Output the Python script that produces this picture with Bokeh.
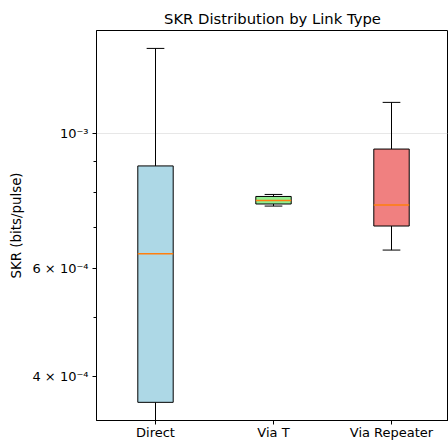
from bokeh.plotting import figure
from bokeh.models import FixedTicker, ColumnDataSource, Range1d
from bokeh.embed import file_html
from bokeh.resources import INLINE

categories = ["Direct", "Via T", "Via Repeater"]
whisker_low = [3.2e-4, 7.60e-4, 6.44e-4]
q1 = [3.63e-4, 7.66e-4, 7.05e-4]
median = [6.35e-4, 7.76e-4, 7.63e-4]
q3 = [8.84e-4, 7.88e-4, 9.42e-4]
whisker_high = [1.376e-3, 7.94e-4, 1.123e-3]
fill_colors = ["#add8e6", "#90ee90", "#f08080"]

y_major = [1e-3]
y_labelled = [4e-4, 6e-4, 1e-3]
y_labels = {4e-4: "4 × 10⁻⁴", 6e-4: "6 × 10⁻⁴", 1e-3: "10⁻³"}
y_minor = [5e-4, 7e-4, 8e-4, 9e-4]

pos = [i + 1 for i in range(len(categories))]
box_w = 0.3
cap_w = 0.15

src = ColumnDataSource(dict(
    x=pos,
    lo=whisker_low, q1=q1, med=median, q3=q3, hi=whisker_high,
    x0=[x - box_w / 2 for x in pos], x1=[x + box_w / 2 for x in pos],
    c0=[x - cap_w / 2 for x in pos], c1=[x + cap_w / 2 for x in pos],
    color=fill_colors,
))

p = figure(width=448, height=442, output_backend="svg", toolbar_location=None,
           y_axis_type="log",
           x_range=Range1d(0.5, 3.483), y_range=Range1d(3.39e-4, 1.472e-3),
           title="SKR Distribution by Link Type")
p.min_border_left = 96
p.min_border_right = 0
p.min_border_top = 30
p.min_border_bottom = 21

p.title.align = "center"
p.title.text_font = "DejaVu Sans"
p.title.text_font_size = "14.8px"
p.title.text_font_style = "normal"
p.title.text_color = "black"
p.title.standoff = 7

p.outline_line_color = "black"
p.outline_line_width = 1
p.background_fill_color = "white"
p.border_fill_color = "white"

# whiskers
p.segment(x0="x", y0="q3", x1="x", y1="hi", source=src, line_color="black", line_width=1)
p.segment(x0="x", y0="q1", x1="x", y1="lo", source=src, line_color="black", line_width=1)
p.segment(x0="c0", y0="hi", x1="c1", y1="hi", source=src, line_color="black", line_width=1)
p.segment(x0="c0", y0="lo", x1="c1", y1="lo", source=src, line_color="black", line_width=1)
# boxes
p.quad(left="x0", right="x1", bottom="q1", top="q3", source=src,
       fill_color="color", line_color="black", line_width=1)
# medians
p.segment(x0="x0", y0="med", x1="x1", y1="med", source=src, line_color="#ff7f0e", line_width=1.5)

# axes
p.xaxis.ticker = FixedTicker(ticks=pos)
p.xaxis.major_label_overrides = {x: c for x, c in zip(pos, categories)}
p.yaxis.ticker = FixedTicker(ticks=y_labelled, minor_ticks=y_minor)
p.yaxis.major_label_overrides = y_labels
p.yaxis.axis_label = "SKR (bits/pulse)"

for ax in (p.xaxis[0], p.yaxis[0]):
    ax.axis_line_color = "black"
    ax.major_tick_line_color = "black"
    ax.minor_tick_line_color = "black"
    ax.major_tick_out = 4
    ax.major_tick_in = 0
    ax.minor_tick_out = 3
    ax.minor_tick_in = 0
    ax.major_label_text_font = "DejaVu Sans"
    ax.major_label_text_font_size = "13px"
    ax.major_label_text_color = "black"
    ax.major_label_standoff = 4
    ax.axis_label_text_font = "DejaVu Sans"
    ax.axis_label_text_font_size = "13.4px"
    ax.axis_label_text_font_style = "normal"
    ax.axis_label_text_color = "black"
    ax.axis_label_standoff = 5
p.xaxis.minor_tick_line_color = None
p.xaxis.major_label_standoff = 0

p.xgrid.visible = False
p.ygrid.ticker = FixedTicker(ticks=y_major)
p.ygrid.grid_line_color = "#b0b0b0"
p.ygrid.grid_line_alpha = 0.3
p.ygrid.grid_line_width = 1
p.ygrid.minor_grid_line_color = None

open("out.html", "w").write(file_html(p, INLINE))
